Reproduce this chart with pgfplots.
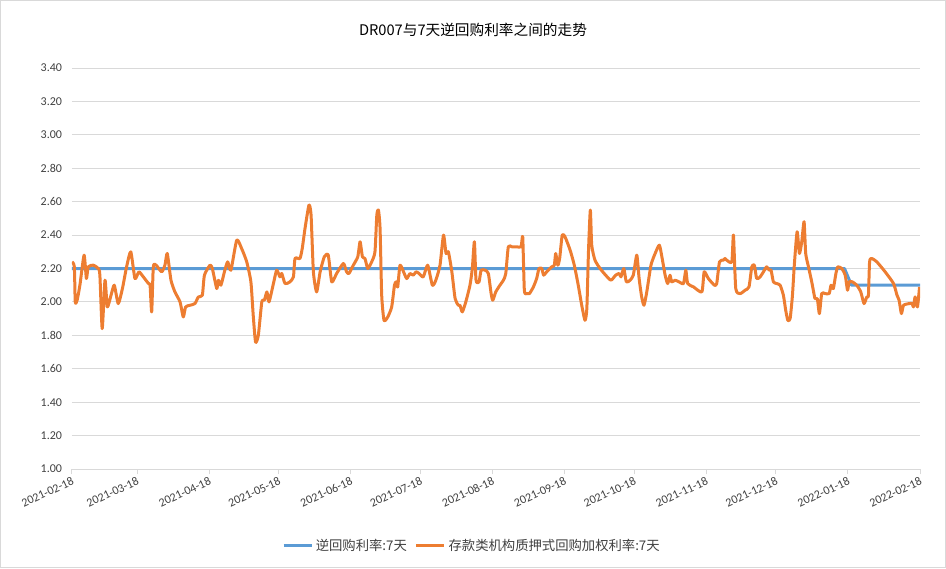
\documentclass[border=0pt]{standalone}
\usepackage{fontspec}
\setmainfont{Carlito}
\newfontfamily\cjk{Noto Sans CJK SC}
\usepackage{pgfplots}
\usepackage{pgfplotstable}
\pgfplotsset{compat=1.18}
\definecolor{exblue}{HTML}{5B9BD5}
\definecolor{exorange}{HTML}{ED7D31}
\definecolor{gridgray}{HTML}{D9D9D9}
\definecolor{labgray}{HTML}{404040}

\pgfplotstableread{
day rate
0 2.24
1 2.21
1.4 2.00
2.2 2.01
3.4 2.10
5.2 2.28
6.2 2.14
7 2.21
9.2 2.22
11.3 2.20
12 2.16
13 1.84
14.2 2.13
15.2 1.97
16.8 2.04
18.2 2.10
19.9 1.99
21.7 2.08
23.5 2.21
25.3 2.30
27.1 2.14
28.8 2.18
30.7 2.15
32.9 2.11
33.6 2.10
34.3 1.94
35 2.21
36.2 2.22
38.6 2.18
40 2.22
41 2.29
42.6 2.13
44.3 2.06
46.5 2.00
47.9 1.91
48.9 1.97
50.8 1.98
52.9 1.99
54.4 2.03
56.1 2.04
57 2.16
59.4 2.22
60.4 2.20
62.3 2.08
63 2.13
64.1 2.10
65.6 2.18
67 2.24
68.4 2.19
70.9 2.37
73 2.32
75.2 2.24
77 2.12
78 1.92
79 1.76
80.2 1.80
81.7 2.00
82.8 2.01
83.9 2.06
84.8 2.00
86.7 2.11
88.1 2.19
89.5 2.15
90.3 2.17
91.7 2.11
93.8 2.12
95.3 2.15
96 2.26
98.1 2.26
99.1 2.32
100.3 2.44
102 2.58
102.9 2.52
103.9 2.18
105.3 2.06
106.8 2.18
108.6 2.27
110.3 2.28
111.8 2.12
113.9 2.17
116.8 2.23
118.2 2.18
119.2 2.17
121.1 2.22
123 2.27
124 2.36
125 2.27
126.1 2.26
127.3 2.20
129 2.24
130.4 2.30
131.2 2.52
131.9 2.55
132.6 2.44
133.3 2.04
134.3 1.89
135.9 1.91
137.6 1.97
138.8 2.10
139.5 2.12
140.2 2.09
141.2 2.22
143 2.17
144.1 2.14
145.5 2.17
146.9 2.16
148.1 2.18
149.4 2.17
151.2 2.15
153.1 2.22
155.1 2.10
156.6 2.13
158.4 2.22
159.9 2.40
161 2.29
162 2.30
163.5 2.18
164.9 2.02
166.3 1.98
167 1.98
168 1.94
169.5 2.00
171.3 2.10
172.3 2.20
173.2 2.36
173.9 2.13
175.2 2.12
176.1 2.19
177.8 2.19
179.2 2.17
180.4 2.05
181.1 2.01
182.4 2.06
184.2 2.10
185.7 2.13
186.7 2.17
187.8 2.33
189.3 2.33
191.4 2.33
193.3 2.33
194 2.39
194.7 2.07
195.7 2.05
196.9 2.05
198.6 2.09
200 2.14
201 2.20
202.2 2.20
203 2.16
204.3 2.18
206.5 2.21
207.6 2.22
208.2 2.29
209.1 2.22
209.9 2.26
211 2.40
212.2 2.39
214.4 2.31
216.2 2.22
217.9 2.10
219.4 1.98
220.8 1.89
221.6 1.96
222.3 2.30
223.1 2.55
223.7 2.34
225.1 2.25
227.3 2.20
229.7 2.16
232 2.13
234 2.16
235.5 2.17
236.3 2.15
237.5 2.20
238.6 2.12
240.2 2.13
241.6 2.16
243.1 2.28
244.1 2.14
245.2 2.03
246.2 1.98
247.4 2.06
249.2 2.22
251 2.29
252.8 2.34
253.9 2.27
255.3 2.16
256.4 2.11
257.4 2.16
258.1 2.12
259.6 2.13
261.3 2.12
263.2 2.11
264.2 2.19
265 2.11
267.5 2.09
271.1 2.06
272.1 2.18
273.9 2.14
276.5 2.10
277.5 2.11
278.7 2.24
280.4 2.25
281.1 2.26
281.8 2.25
284 2.24
284.7 2.40
285.7 2.08
287.6 2.05
289.7 2.07
291.4 2.09
292.6 2.21
293.7 2.22
294.7 2.14
296.2 2.15
297.6 2.18
299 2.21
300.1 2.19
300.9 2.19
301.9 2.12
303.3 2.11
304.8 2.10
306.2 2.04
307.2 1.95
308.1 1.89
309.1 1.90
310.1 2.04
310.9 2.22
312.1 2.42
313.1 2.29
314.1 2.36
315.1 2.48
315.8 2.29
317 2.21
318.4 2.12
319.8 2.02
320.8 2.02
321.7 1.93
322.7 2.05
324.1 2.05
325.9 2.05
326.7 2.10
327.7 2.08
328.8 2.17
329.6 2.21
331.3 2.20
332.8 2.16
333.8 2.07
334.5 2.12
335.9 2.12
337.8 2.10
339.5 2.06
340.9 1.99
342.1 2.03
342.8 2.04
343.3 2.24
344.2 2.26
346.4 2.24
350 2.18
353.6 2.11
355.1 2.04
356 2.01
357 1.93
357.9 1.98
360.4 1.99
361.6 1.99
362.2 1.97
362.9 2.03
363.9 1.97
364.8 2.09
}\drtable

\pgfplotstableread{
day rate
0 2.20
332.5 2.20
335.5 2.10
365 2.10
}\reporate

\begin{document}
\begin{tikzpicture}
\useasboundingbox (-54pt,-74.25pt) rectangle (655.5pt,351.75pt);
\draw[gridgray, line width=0.75pt] (-53.6pt,-73.85pt) rectangle (655.1pt,351.35pt);
\begin{axis}[
  at={(0,0)}, anchor=south west, scale only axis,
  width=636pt, height=300.75pt,
  xmin=0, xmax=365, ymin=1, ymax=3.4,
  xtick={0,28,59,89,120,150,181,212,242,273,303,334,365},
  xticklabels={2021-02-18,2021-03-18,2021-04-18,2021-05-18,2021-06-18,2021-07-18,2021-08-18,2021-09-18,2021-10-18,2021-11-18,2021-12-18,2022-01-18,2022-02-18},
  ytick={1.0,1.2,1.4,1.6,1.8,2.0,2.2,2.4,2.6,2.8,3.0,3.2,3.4},
  /pgf/number format/assume math mode=true,
  yticklabel style={/pgf/number format/fixed, /pgf/number format/fixed zerofill, /pgf/number format/precision=2},
  ymajorgrids, grid style={gridgray, line width=0.75pt},
  axis line style={draw=none},
  xtick pos=bottom, ytick pos=left,
  tick align=outside, major tick length=4pt,
  xtick style={gridgray, line width=0.75pt},
  ytick style={draw=none},
  xticklabel style={rotate=25, anchor=north east, inner sep=1pt, font=\fontsize{9}{10}\selectfont, text=labgray},
  yticklabel style={font=\fontsize{9}{10}\selectfont, text=labgray},
  legend style={at={(0.472,-0.192)}, anchor=center, draw=none, fill=none,
    legend columns=2, font=\cjk\fontsize{10}{12}\selectfont, text=labgray,
    /tikz/every even column/.append style={column sep=4pt}},
  legend cell align=left,
  legend image code/.code={\draw[#1] (0pt,0pt) -- (21pt,0pt);},
]
\addplot[exblue, line width=2.25pt, line join=round] table[x=day, y=rate] {\reporate};
\addlegendentry{逆回购利率:7天}
\addplot[exorange, line width=2.25pt, smooth, tension=0.35, line join=round] table[x=day, y=rate] {\drtable};
\addlegendentry{存款类机构质押式回购加权利率:7天}
\end{axis}
\node[font=\cjk\fontsize{11}{13}\selectfont, text=black] at (300.75pt,329.25pt) {DR007与7天逆回购利率之间的走势};
\end{tikzpicture}
\end{document}
